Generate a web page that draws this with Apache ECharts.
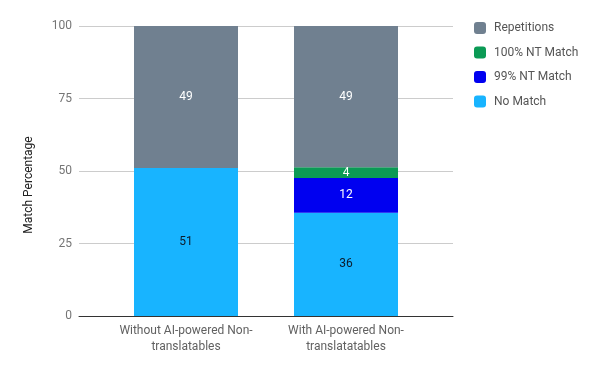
<!DOCTYPE html>
<html><head><meta charset="utf-8">
<script src="https://cdn.jsdelivr.net/npm/echarts@6/dist/echarts.min.js"></script>
<style>html,body{margin:0;padding:0;background:#fff}#c{width:600px;height:371px}</style>
</head><body><div id="c"></div>
<script>
const categories = ['Without AI-powered Non-\ntranslatables', 'With AI-powered Non-\ntranslatatables'];
const noMatch = [51, 35.6];
const nt99 = [0, 12];
const nt100 = [0, 3.7];
const repetitions = [49, 48.7];
const yTicks = [0, 25, 50, 75, 100];

const chart = echarts.init(document.getElementById('c'));
const font = 'Roboto, "Noto Sans", Arial, sans-serif';
function lbl(color) {
  return { show: true, color: color, fontSize: 12, fontFamily: font,
    formatter: p => p.value > 0 ? Math.round(p.value) : '' };
}
const barW = 104;
chart.setOption({
  animation: false,
  textStyle: { fontFamily: font },
  grid: [
    { left: 79, right: 147, top: 26, bottom: 55 },
    { left: 106, right: 174, top: 26, bottom: 55 }
  ],
  legend: {
    orient: 'vertical', left: 469, top: 17, itemGap: 12.5, itemWidth: 12, itemHeight: 12,
    icon: 'roundRect',
    textStyle: { color: '#555', fontSize: 12, fontFamily: font, padding: [0, 0, 0, 3] },
    data: ['Repetitions', '100% NT Match', '99% NT Match', 'No Match']
  },
  xAxis: [
    { type: 'category', gridIndex: 0, data: ['a'], axisLabel: { show: false }, axisTick: { show: false },
      axisLine: { lineStyle: { color: '#333', width: 1 } } },
    { type: 'category', gridIndex: 1, data: categories, axisTick: { show: false }, axisLine: { show: false },
      axisLabel: { color: '#616161', fontSize: 12, lineHeight: 16, margin: 7, fontFamily: font, interval: 0 } }
  ],
  yAxis: [
    { type: 'value', gridIndex: 0, min: yTicks[0], max: yTicks[yTicks.length - 1], interval: 25,
      axisLabel: { color: '#757575', fontSize: 12, margin: 7, fontFamily: font },
      splitLine: { lineStyle: { color: '#cccccc' } }, axisLine: { show: false }, axisTick: { show: false } },
    { type: 'value', gridIndex: 1, min: 0, max: 100, interval: 25, show: false, splitLine: { show: false } }
  ],
  graphic: [{
    type: 'text', x: 29, y: 185, rotation: Math.PI / 2,
    style: { text: 'Match Percentage', fill: '#222', font: '12px ' + font, textAlign: 'center', textVerticalAlign: 'middle' }
  }],
  series: [
    { name: 'No Match', type: 'bar', stack: 's', xAxisIndex: 1, yAxisIndex: 1, barWidth: barW, data: noMatch,
      itemStyle: { color: '#18b4ff' }, label: lbl('#0d1b2a') },
    { name: '99% NT Match', type: 'bar', stack: 's', xAxisIndex: 1, yAxisIndex: 1, barWidth: barW, data: nt99,
      itemStyle: { color: '#0000f0' }, label: lbl('#ffffff') },
    { name: '100% NT Match', type: 'bar', stack: 's', xAxisIndex: 1, yAxisIndex: 1, barWidth: barW, data: nt100,
      itemStyle: { color: '#0b9a55' }, label: lbl('#ffffff') },
    { name: 'Repetitions', type: 'bar', stack: 's', xAxisIndex: 1, yAxisIndex: 1, barWidth: barW, data: repetitions,
      itemStyle: { color: '#708090' }, label: lbl('#ffffff') }
  ]
});
</script></body></html>
